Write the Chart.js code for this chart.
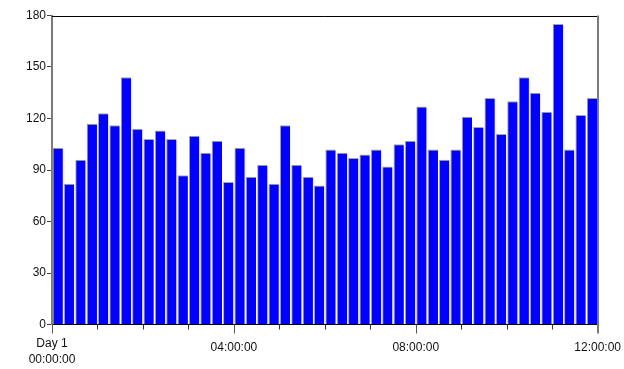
<!DOCTYPE html>
<html>
<head>
<meta charset="utf-8">
<script src="https://cdn.jsdelivr.net/npm/chart.js@4/dist/chart.umd.min.js"></script>
<style>
  html, body { margin: 0; padding: 0; background: #ffffff; }
  #wrap { width: 624px; height: 369px; position: relative; }
</style>
</head>
<body>
<div id="wrap"><canvas id="c" width="624" height="369"></canvas></div>
<script>
// 15-minute slots over the first 12 hours of Day 1
const slotLabels = [
  '00:00','00:15','00:30','00:45','01:00','01:15','01:30','01:45',
  '02:00','02:15','02:30','02:45','03:00','03:15','03:30','03:45',
  '04:00','04:15','04:30','04:45','05:00','05:15','05:30','05:45',
  '06:00','06:15','06:30','06:45','07:00','07:15','07:30','07:45',
  '08:00','08:15','08:30','08:45','09:00','09:15','09:30','09:45',
  '10:00','10:15','10:30','10:45','11:00','11:15','11:30','11:45'
];
// count recorded in each slot
const counts = [
  103, 82, 96, 117, 123, 116, 144, 114,
  108, 113, 108, 87, 110, 100, 107, 83,
  103, 86, 93, 82, 116, 93, 86, 81,
  102, 100, 97, 99, 102, 92, 105, 107,
  127, 102, 96, 102, 121, 115, 132, 111,
  130, 144, 135, 124, 175, 102, 122, 132
];
const slotLengthHours = 0.25;
// labelled x ticks (hours from start) and their text
const xTickHours = [0, 4, 8, 12];
const xTickLabels = [['Day 1', '00:00:00'], '04:00:00', '08:00:00', '12:00:00'];
// y axis ticks
const yTicks = [0, 30, 60, 90, 120, 150, 180];

function slotCenterHours(label) {
  const [h, m] = label.split(':').map(Number);
  return h + m / 60 + slotLengthHours / 2;
}

const points = slotLabels.map((lab, i) => ({ x: slotCenterHours(lab), y: counts[i] }));

// frame on top/right, and hourly tick marks under the time axis
const framePlugin = {
  id: 'frame',
  afterDraw(chart) {
    const { ctx, chartArea: a, scales } = chart;
    const xs = scales.x;
    ctx.save();
    ctx.lineWidth = 1;
    // top border
    ctx.strokeStyle = '#000000';
    ctx.beginPath();
    ctx.moveTo(a.left, Math.round(a.top) + 0.5);
    ctx.lineTo(a.right, Math.round(a.top) + 0.5);
    ctx.stroke();
    // right border, running down into the last major tick
    ctx.strokeStyle = '#7a7a7a';
    ctx.lineWidth = 2;
    ctx.beginPath();
    ctx.moveTo(Math.round(a.right), a.top);
    ctx.lineTo(Math.round(a.right), a.bottom + 9);
    ctx.stroke();
    // hourly ticks
    ctx.lineWidth = 1;
    for (let h = 0; h <= 12; h++) {
      const px = Math.round(xs.getPixelForValue(h)) + 0.5;
      const major = xTickHours.includes(h);
      ctx.strokeStyle = major ? '#555555' : '#333333';
      if (h === 12) continue;
      ctx.beginPath();
      ctx.moveTo(px, a.bottom);
      ctx.lineTo(px, a.bottom + (major ? 9 : 5));
      ctx.stroke();
    }
    ctx.restore();
  }
};

new Chart(document.getElementById('c'), {
  type: 'bar',
  data: {
    datasets: [{
      data: points,
      backgroundColor: '#0000ff',
      borderColor: '#9a9aff',
      borderWidth: { left: 1, top: 1, right: 0, bottom: 0 },
      borderSkipped: false,
      barPercentage: 0.91,
      categoryPercentage: 1.0
    }]
  },
  options: {
    responsive: false,
    animation: false,
    events: [],
    layout: { padding: { left: 25, right: 2, top: 15.5, bottom: -1.5 } },
    plugins: {
      legend: { display: false },
      tooltip: { enabled: false }
    },
    scales: {
      x: {
        type: 'linear',
        min: 0,
        max: 12,
        offset: false,
        grid: { display: true, offset: false, drawOnChartArea: false, drawTicks: true, tickLength: 8, tickColor: 'rgba(0,0,0,0)' },
        border: { display: true, color: '#000000', width: 1 },
        afterBuildTicks(scale) {
          scale.ticks = xTickHours.map(v => ({ value: v }));
        },
        ticks: {
          autoSkip: false,
          maxRotation: 0,
          minRotation: 0,
          padding: 3,
          color: '#111111',
          font: (ctx) => ({
            family: '"Liberation Sans", Arial, sans-serif',
            size: 12,
            lineHeight: ctx.index === 0 ? '16px' : '24px'
          }),
          callback: (value) => {
            const k = xTickHours.indexOf(value);
            return k >= 0 ? xTickLabels[k] : '';
          }
        }
      },
      y: {
        min: 0,
        max: 180,
        grid: { display: true, drawOnChartArea: false, drawTicks: true, tickLength: 5, tickColor: '#444444' },
        border: { display: true, color: '#7a7a7a', width: 2 },
        afterBuildTicks(scale) {
          scale.ticks = yTicks.map(v => ({ value: v }));
        },
        ticks: {
          padding: 1,
          color: '#111111',
          font: { family: '"Liberation Sans", Arial, sans-serif', size: 12 }
        }
      }
    }
  },
  plugins: [framePlugin]
});
</script>
</body>
</html>
